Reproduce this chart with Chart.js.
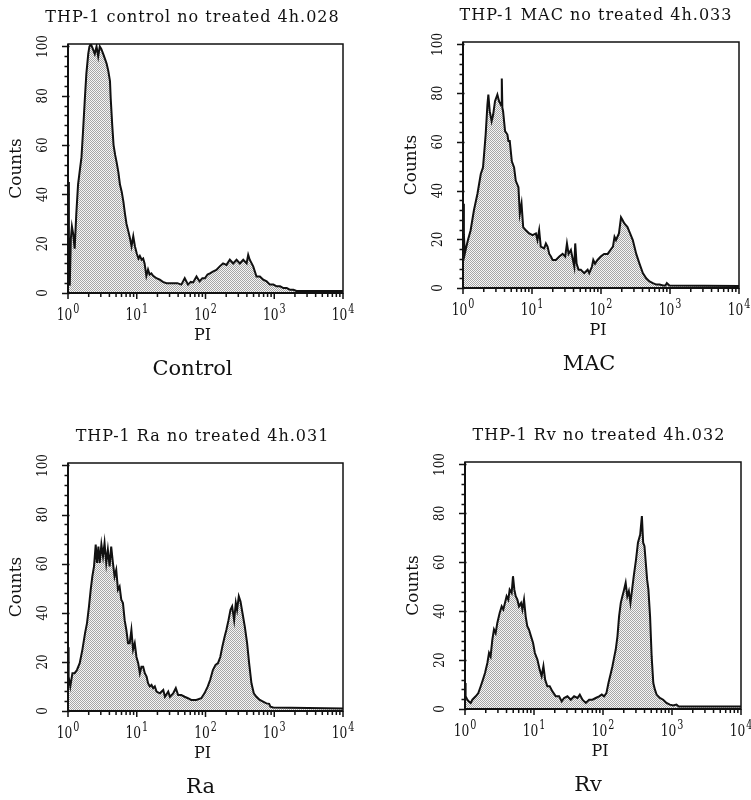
<!DOCTYPE html>
<html>
<head>
<meta charset="utf-8">
<script src="https://cdn.jsdelivr.net/npm/chart.js@4.4.1/dist/chart.umd.min.js"></script>
<style>
  body { margin: 0; background: #fff; }
  #wrap { position: relative; width: 751px; height: 800px; overflow: hidden; }
  canvas { position: absolute; }
</style>
</head>
<body>
<div id="wrap">
  <canvas id="c0" width="375" height="390" style="left:0;top:0"></canvas>
  <canvas id="c1" width="375" height="390" style="left:376px;top:0"></canvas>
  <canvas id="c2" width="375" height="390" style="left:0;top:410px"></canvas>
  <canvas id="c3" width="375" height="390" style="left:376px;top:410px"></canvas>
</div>
<script>
'use strict';

// Histogram data (PI channel, counts)
const controlPI = [1, 1.03, 1.06, 1.1, 1.14, 1.19, 1.25, 1.32, 1.4, 1.49,
  1.57, 1.65, 1.76, 1.85, 1.97, 2.05, 2.15, 2.3, 2.45, 2.6,
  2.75, 2.9, 3.05, 3.25, 3.45, 3.65, 3.86, 4.08, 4.18, 4.4,
  4.6, 4.85, 5.1, 5.4, 5.7, 6.05, 6.4, 6.75, 7.1, 7.55,
  8.0, 8.4, 8.9, 9.4, 10, 10.6, 11.1, 11.8, 12.4, 13,
  13.8, 14.6, 15.4, 16.3, 17.3, 18.3, 19.3, 21.6, 24, 27,
  30, 34, 39, 44.5, 49.9, 55.7, 61, 66, 74, 82,
  90, 98, 107, 116, 128, 144, 161, 180, 202, 226,
  253, 283, 316, 354, 396, 418, 440, 494, 552, 618,
  692, 775, 866, 970, 1085, 1215, 1360, 1520, 1700, 1900,
  2100, 10000];
const controlCounts = [45, 20, 3, 22, 27, 24, 18, 32, 44, 50,
  55, 65, 79, 89, 97, 100, 101, 99, 97, 100,
  96, 100, 99, 97, 95, 93, 90, 86, 79, 68,
  60, 56, 53, 49, 44, 41, 37, 32, 28, 25,
  22, 19, 23, 19, 16, 14, 15, 13.5, 14, 12,
  7, 9.5, 7.5, 8, 7, 6.5, 6, 5.4, 4.5, 4,
  4, 4, 4, 3.4, 6, 3.4, 4.5, 4.3, 6.7, 4.7,
  6, 6, 7.5, 8, 8.7, 9.4, 10.8, 12, 11.4, 13.5,
  12, 13.5, 12, 13.5, 12, 15.5, 13.5, 10.8, 6.7, 6.7,
  5.4, 4.7, 3.4, 3.4, 2.7, 2.7, 2, 2, 1.3, 1.3,
  0.8, 0.8];

const macPI = [1, 1.03, 1.06, 1.12, 1.18, 1.29, 1.44, 1.62, 1.81, 1.95,
  2.13, 2.26, 2.33, 2.44, 2.6, 2.73, 2.91, 3.15, 3.33, 3.52,
  3.6, 3.65, 3.72, 3.81, 4.07, 4.4, 4.55, 4.76, 5.1, 5.5,
  5.82, 6.36, 6.66, 7.05, 7.45, 8.15, 9.1, 10.2, 11.4, 12.0,
  12.7, 13.4, 15, 15.9, 16.8, 17.8, 18.8, 19.9, 22.2, 24.9,
  27.8, 30.3, 32.1, 33.9, 36.6, 38.7, 41, 42.3, 44.3, 47.3,
  51, 57, 64, 67.6, 74, 77.3, 82, 89, 99, 111,
  125, 137, 149, 157, 165, 182, 195, 206, 218, 242,
  264, 289, 324, 361, 404, 452, 505, 565, 633, 706,
  790, 860, 900, 980, 10000];
const macCounts = [34.6, 22, 14, 17, 19.7, 23.7, 31.9, 38.7, 46.8, 49.5,
  63, 75.3, 79.4, 72.6, 68.5, 71, 76.7, 79.4, 76.7, 75.3,
  76, 86, 74, 72.6, 64.4, 63, 60.4, 60.4, 52, 49.5,
  44, 41.4, 30.5, 34.6, 25, 23.7, 22.4, 21.7, 22.4, 19.7,
  23.7, 17, 16.3, 18.3, 17, 14, 12.9, 11.5, 11.5, 12.9,
  14, 12.9, 18.3, 14, 15.6, 12.2, 8.8, 18.3, 10, 7.5,
  7.5, 6.1, 7.5, 6.1, 8.8, 11.5, 10, 11.5, 12.9, 14,
  14, 15.6, 17, 21, 19.7, 22.4, 29, 27.8, 26.5, 25,
  22.4, 19.7, 14, 10, 6.1, 4, 2.7, 2, 1.4, 1.4,
  1, 1, 2, 1, 0.8];

const raPI = [1, 1.02, 1.08, 1.16, 1.25, 1.35, 1.48, 1.62, 1.77, 1.89,
  2.02, 2.14, 2.26, 2.39, 2.53, 2.64, 2.77, 2.89, 3.06, 3.23,
  3.4, 3.6, 3.8, 4.03, 4.25, 4.5, 4.76, 5.03, 5.33, 5.63,
  5.96, 6.3, 6.67, 7.06, 7.47, 7.9, 8.36, 8.84, 9.35, 9.9,
  10.5, 11.1, 11.7, 12.4, 13.1, 13.9, 14.6, 15.5, 16.4, 17.3,
  18.3, 19.4, 21.7, 24.3, 25.7, 28.7, 30.4, 33.9, 37, 40,
  44.4, 49.7, 55.6, 62, 73.5, 86.7, 96.6, 108, 117, 128,
  140, 152, 164, 176, 190, 201, 216, 231, 244, 261,
  276, 288, 305, 323, 345, 373, 403, 431, 466, 504,
  551, 616, 688, 770, 843, 880, 965, 10000];
const raCounts = [26, 14, 10, 15.4, 15.4, 16.7, 19.5, 25, 31.7, 35.8,
  42.6, 49.4, 54.8, 58.9, 67.8, 60.3, 67, 60.3, 67.8, 63,
  68.4, 60.3, 65.7, 58.9, 67, 60.3, 54.8, 57.5, 49.4, 50.7,
  45.3, 44, 37, 33, 27.6, 27.6, 33, 25, 27.6, 22,
  19.5, 15.4, 18, 18, 15.4, 14, 11.3, 10, 10.6, 9.3,
  10, 7.9, 7.2, 8.6, 5.8, 7.9, 5.8, 7.2, 9.3, 6.5,
  6.5, 5.8, 5.2, 4.5, 4.5, 5.2, 7.2, 10, 12.7, 16.7,
  18.8, 19.5, 22, 26.3, 30.3, 33, 37, 41.2, 42.6, 37,
  44, 41.2, 46.7, 44.6, 39.9, 34.4, 27.6, 19.5, 11.3, 7.2,
  5.8, 4.5, 3.8, 3.1, 2.9, 1.8, 1.4, 1];

const rvPI = [1, 1.02, 1.08, 1.14, 1.21, 1.28, 1.43, 1.56, 1.69, 1.82,
  1.95, 2.11, 2.23, 2.35, 2.49, 2.63, 2.78, 2.94, 3.18, 3.4,
  3.59, 3.8, 4.01, 4.24, 4.44, 4.74, 4.96, 5.19, 5.43, 5.74,
  6.06, 6.49, 6.79, 7.17, 7.57, 8.0, 8.46, 9.05, 9.7, 10.3,
  11.2, 12.1, 12.9, 13.7, 14.5, 15.6, 16.9, 18.5, 20.7, 23.1,
  25.2, 27.3, 30.5, 34.1, 38.1, 42.6, 46.1, 50.4, 56.3, 62.9,
  70.3, 78.6, 87.8, 96, 104, 112, 120, 130, 137, 146,
  153, 162, 171, 181, 191, 202, 213, 225, 237, 250,
  264, 279, 301, 321, 346, 366, 382, 399, 417, 436,
  455, 481, 507, 536, 566, 598, 667, 745, 833, 930,
  1040, 1161, 1250, 10000];
const rvCounts = [10.6, 5.2, 3.8, 3.1, 2.5, 3.8, 5.2, 6.5, 9.3, 12,
  14.7, 18.8, 22.9, 21.5, 28.4, 32.5, 31, 35.2, 39.3, 42,
  40.7, 43.4, 46.1, 44.7, 48.8, 47.5, 54.3, 48.8, 46.1, 44.7,
  42, 43.4, 40.7, 44.7, 37.9, 33.8, 32.5, 29.7, 27, 22.9,
  20.2, 16.1, 13.4, 17.5, 12, 9.3, 9.3, 7.2, 5.2, 5.2,
  3.1, 4.5, 5.2, 3.8, 5.2, 4.5, 5.9, 3.8, 2.5, 3.8,
  3.8, 4.5, 5.2, 5.9, 5.2, 6.5, 10.6, 14.7, 17.5, 21.5,
  24.3, 29.7, 37.9, 43.4, 46.1, 48.8, 51.6, 46.1, 48.2, 43.4,
  48.8, 54.3, 61.1, 68, 71.3, 78.9, 68, 66.6, 59.8, 52.9,
  48.8, 37.9, 21.5, 10.6, 7.9, 5.9, 4.5, 3.8, 2.5, 1.8,
  1.4, 1.8, 1, 1];

// Labels
const titles = ['THP-1 control no treated 4h.028', 'THP-1 MAC no treated 4h.033',
  'THP-1 Ra no treated 4h.031', 'THP-1 Rv no treated 4h.032'];
const sampleNames = ['Control', 'MAC', 'Ra', 'Rv'];
const yTickLabels = [0, 20, 40, 60, 80, 100];
const xDecades = [0, 1, 2, 3, 4];
const xAxisTitle = 'PI';
const yAxisTitle = 'Counts';

// Layout per panel (chart area padding inside each canvas, text nudges)
const panels = [
  { canvas: 'c0', pi: controlPI, counts: controlCounts, pad: { left: 68, top: 44, right: 32, bottom: 97 }, titleDx: -13, nameDx: -13 },
  { canvas: 'c1', pi: macPI, counts: macCounts, pad: { left: 87, top: 42, right: 12, bottom: 102 }, titleDx: -5, nameDx: -12 },
  { canvas: 'c2', pi: raPI, counts: raCounts, pad: { left: 68, top: 53, right: 32, bottom: 89 }, titleDx: -3, nameDx: -5 },
  { canvas: 'c3', pi: rvPI, counts: rvCounts, pad: { left: 89, top: 52, right: 10, bottom: 91 }, titleDx: -4, nameDx: -15 }
];

const serif = '"DejaVu Serif", serif';

// fine halftone like the printed grey
function stipple() {
  const c = document.createElement('canvas');
  c.width = 2; c.height = 2;
  const g = c.getContext('2d');
  g.fillStyle = '#f6f6f6';
  g.fillRect(0, 0, 2, 2);
  g.fillStyle = '#a6a6a6';
  g.fillRect(0, 0, 1, 1);
  g.fillRect(1, 1, 1, 1);
  return g.createPattern(c, 'repeat');
}

function drawText(ctx, str, x, y, size, sx, rotate, spacing) {
  ctx.save();
  ctx.translate(x, y);
  if (rotate) ctx.rotate(-Math.PI / 2);
  ctx.scale(sx, 1);
  ctx.font = size + 'px ' + serif;
  ctx.letterSpacing = spacing || '0px';
  ctx.textAlign = 'center';
  ctx.textBaseline = 'middle';
  ctx.fillText(str, 0, 0);
  ctx.restore();
}

// Power-of-ten label: "10" with raised exponent
function drawPower(ctx, exp, x, baseline) {
  const sx = 0.72, size = 17, supSize = 12, supSx = 0.8;
  ctx.save();
  ctx.font = size + 'px ' + serif;
  const w1 = ctx.measureText('10').width * sx;
  ctx.font = supSize + 'px ' + serif;
  const w2 = ctx.measureText(String(exp)).width * supSx;
  const start = x - (w1 + w2 + 1) / 2;
  ctx.textAlign = 'left';
  ctx.textBaseline = 'alphabetic';
  ctx.save();
  ctx.translate(start, baseline);
  ctx.scale(sx, 1);
  ctx.font = size + 'px ' + serif;
  ctx.fillText('10', 0, 0);
  ctx.restore();
  ctx.save();
  ctx.translate(start + w1 + 1, baseline - 7);
  ctx.scale(supSx, 1);
  ctx.font = supSize + 'px ' + serif;
  ctx.fillText(String(exp), 0, 0);
  ctx.restore();
  ctx.restore();
}

const facsFrame = {
  id: 'facsFrame',
  afterDraw(chart, args, opts) {
    const ctx = chart.ctx;
    const a = chart.chartArea;
    const xs = chart.scales.x, ys = chart.scales.y;
    ctx.save();
    ctx.strokeStyle = '#111';
    ctx.fillStyle = '#111';

    // box
    ctx.lineWidth = 1.5;
    ctx.strokeRect(a.left, a.top, a.right - a.left, a.bottom - a.top);
    ctx.lineWidth = 2;
    ctx.beginPath();
    ctx.moveTo(a.left, a.top);
    ctx.lineTo(a.left, a.bottom);
    ctx.lineTo(a.right, a.bottom);
    ctx.stroke();

    // y ticks every 4, long ones every 20
    ctx.lineWidth = 1.5;
    ctx.beginPath();
    for (let v = 0; v <= 100; v += 4) {
      const py = Math.round(ys.getPixelForValue(v)) + 0.5;
      const major = v % 20 === 0;
      ctx.moveTo(a.left - (major ? 6 : 3.5), py);
      ctx.lineTo(a.left + (major ? 1.5 : 0), py);
    }
    ctx.stroke();

    // x ticks: decades long, 2..9 short
    ctx.beginPath();
    xDecades.forEach(d => {
      const base = Math.pow(10, d);
      const px = xs.getPixelForValue(base);
      ctx.moveTo(px, a.bottom);
      ctx.lineTo(px, a.bottom + 6);
      if (d < 4) {
        for (let m = 2; m <= 9; m++) {
          const mx = xs.getPixelForValue(base * m);
          ctx.moveTo(mx, a.bottom);
          ctx.lineTo(mx, a.bottom + 4);
        }
      }
    });
    ctx.stroke();

    // y tick labels (rotated)
    yTickLabels.forEach(v => {
      drawText(ctx, String(v), a.left - 25, ys.getPixelForValue(v), 15, 0.8, true);
    });

    // x tick labels
    xDecades.forEach(d => {
      drawPower(ctx, d, xs.getPixelForValue(Math.pow(10, d)), a.bottom + 27);
    });

    const cx = (a.left + a.right) / 2;
    drawText(ctx, xAxisTitle, cx - 3, a.bottom + 43, 16, 1);
    drawText(ctx, yAxisTitle, a.left - 51, (a.top + a.bottom) / 2, 17, 1, true);
    drawText(ctx, opts.title, cx + opts.titleDx, a.top - 26, 16, 1, false, '1px');
    drawText(ctx, opts.name, cx + opts.nameDx, a.bottom + 77, 21, 1);
    ctx.restore();
  }
};

const fill = stipple();

panels.forEach((p, i) => {
  const points = p.pi.map((x, k) => ({ x: x, y: p.counts[k] }));
  new Chart(document.getElementById(p.canvas), {
    type: 'line',
    data: {
      datasets: [{
        data: points,
        borderColor: '#111',
        borderWidth: 2,
        backgroundColor: fill,
        fill: 'origin',
        pointRadius: 0,
        tension: 0
      }]
    },
    options: {
      responsive: false,
      animation: false,
      devicePixelRatio: 1,
      layout: { padding: p.pad },
      scales: {
        x: { type: 'logarithmic', min: 1, max: 10000, display: false },
        y: { type: 'linear', min: 0, max: 101, display: false }
      },
      plugins: {
        legend: { display: false },
        tooltip: { enabled: false },
        facsFrame: { title: titles[i], name: sampleNames[i], titleDx: p.titleDx, nameDx: p.nameDx }
      }
    },
    plugins: [facsFrame]
  });
});
</script>
</body>
</html>
